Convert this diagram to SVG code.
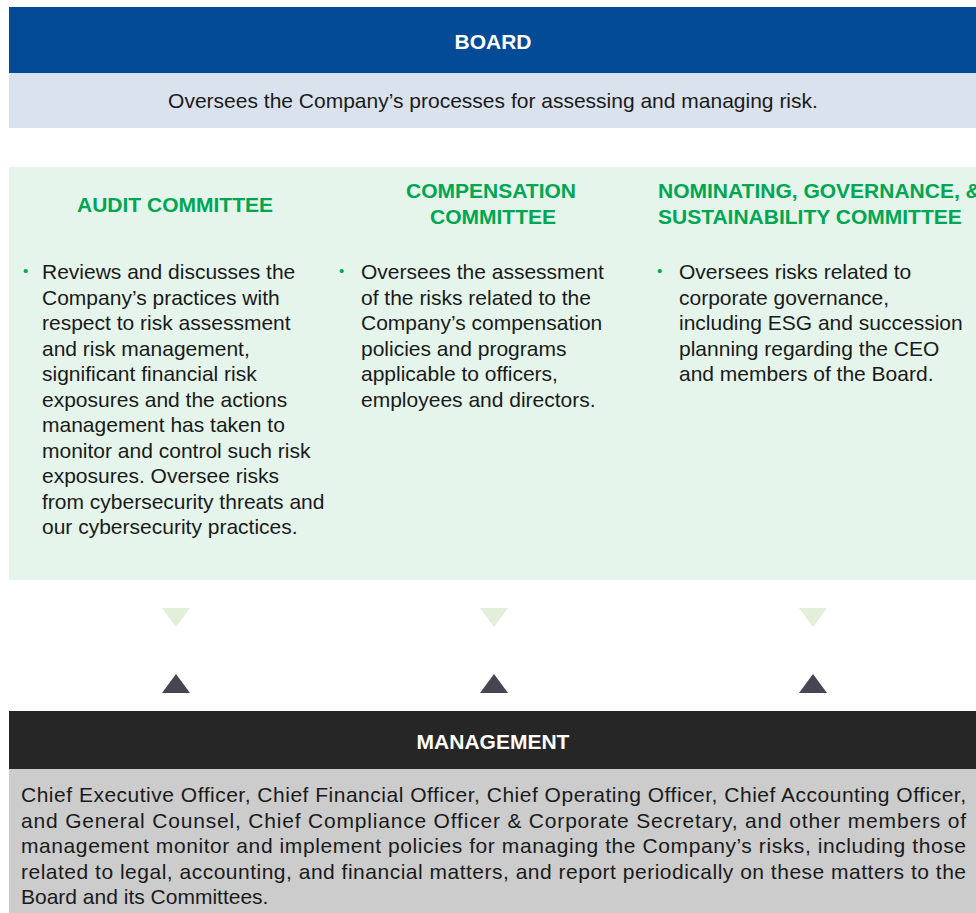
<svg xmlns="http://www.w3.org/2000/svg" width="976" height="913" viewBox="0 0 976 913">
<style>
text{font-family:"Liberation Sans",Arial,sans-serif;}
.hd{font-size:21px;font-weight:bold;fill:#ffffff;text-anchor:middle;}
.ct{font-size:21px;font-weight:bold;fill:#00a651;}
.ctm{text-anchor:middle;}
.bd{font-size:21px;fill:#1a1a1a;}
.bl{font-size:15px;fill:#00a651;}
.mg{font-size:21px;fill:#1a1a1a;}
.dn{fill:#e3efd8;}
.up{fill:#464652;}
</style>
<rect width="976" height="913" fill="#ffffff"/>
<g id="board">
<rect x="9" y="7" width="967" height="66" fill="#034b96"/>
<text class="hd" x="493" y="49">BOARD</text>
<rect x="9" y="73" width="967" height="55" fill="#dae3ed"/>
<text class="bd" x="493" y="108" text-anchor="middle">Oversees the Company’s processes for assessing and managing risk.</text>
</g>
<g id="committees">
<rect x="9" y="167" width="967" height="413" fill="#e5f5ec"/>
</g>
<g id="audit">
<text class="ct ctm" x="175" y="212">AUDIT COMMITTEE</text>
<text class="bl" x="23" y="276">•</text>
<text class="bd" x="42" y="279">
<tspan x="42" y="279">Reviews and discusses the</tspan>
<tspan x="42" y="304.5">Company’s practices with</tspan>
<tspan x="42" y="330">respect to risk assessment</tspan>
<tspan x="42" y="355.5">and risk management,</tspan>
<tspan x="42" y="381">significant financial risk</tspan>
<tspan x="42" y="406.5">exposures and the actions</tspan>
<tspan x="42" y="432">management has taken to</tspan>
<tspan x="42" y="457.5">monitor and control such risk</tspan>
<tspan x="42" y="483">exposures. Oversee risks</tspan>
<tspan x="42" y="508.5">from cybersecurity threats and</tspan>
<tspan x="42" y="534">our cybersecurity practices.</tspan>
</text>
</g>
<g id="compensation">
<text class="ct ctm" x="491" y="198">COMPENSATION</text>
<text class="ct ctm" x="493" y="224">COMMITTEE</text>
<text class="bl" x="339" y="276">•</text>
<text class="bd">
<tspan x="361" y="279">Oversees the assessment</tspan>
<tspan x="361" y="304.5">of the risks related to the</tspan>
<tspan x="361" y="330">Company’s compensation</tspan>
<tspan x="361" y="355.5">policies and programs</tspan>
<tspan x="361" y="381">applicable to officers,</tspan>
<tspan x="361" y="406.5">employees and directors.</tspan>
</text>
</g>
<g id="nominating">
<text class="ct" x="658" y="198">NOMINATING, GOVERNANCE, &amp;</text>
<text class="ct" x="658" y="224">SUSTAINABILITY COMMITTEE</text>
<text class="bl" x="657" y="276">•</text>
<text class="bd">
<tspan x="679" y="279">Oversees risks related to</tspan>
<tspan x="679" y="304.5">corporate governance,</tspan>
<tspan x="679" y="330">including ESG and succession</tspan>
<tspan x="679" y="355.5">planning regarding the CEO</tspan>
<tspan x="679" y="381">and members of the Board.</tspan>
</text>
</g>
<g id="connectors">
<polygon class="dn" points="162,608 190,608 176,627"/>
<polygon class="dn" points="480,608 508,608 494,627"/>
<polygon class="dn" points="799,608 827,608 813,627"/>
<polygon class="up" points="162,693 190,693 176,674"/>
<polygon class="up" points="480,693 508,693 494,674"/>
<polygon class="up" points="799,693 827,693 813,674"/>
</g>
<g id="management">
<rect x="9" y="711" width="967" height="58" fill="#262626"/>
<text class="hd" x="493" y="749">MANAGEMENT</text>
<rect x="9" y="769" width="967" height="144" fill="#cccccc"/>
<text class="mg" x="21" y="802" textLength="945" lengthAdjust="spacing">Chief Executive Officer, Chief Financial Officer, Chief Operating Officer, Chief Accounting Officer,</text>
<text class="mg" x="21" y="827.5" textLength="945" lengthAdjust="spacing">and General Counsel, Chief Compliance Officer &amp; Corporate Secretary, and other members of</text>
<text class="mg" x="21" y="853" textLength="945" lengthAdjust="spacing">management monitor and implement policies for managing the Company’s risks, including those</text>
<text class="mg" x="21" y="878.5" textLength="945" lengthAdjust="spacing">related to legal, accounting, and financial matters, and report periodically on these matters to the</text>
<text class="mg" x="21" y="904">Board and its Committees.</text>
</g>
</svg>
